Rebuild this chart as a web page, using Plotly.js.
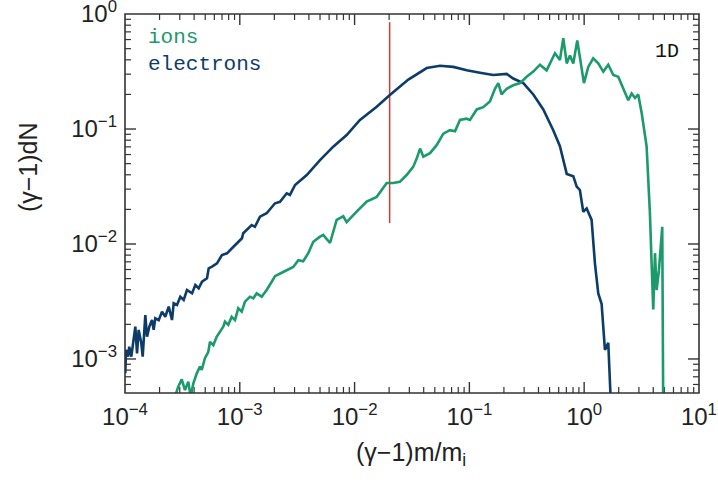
<!DOCTYPE html>
<html>
<head>
<meta charset="utf-8">
<script src="https://cdn.plot.ly/plotly-3.0.1.min.js"></script>
<style>
html,body{margin:0;padding:0;background:#fff;}
#chart{width:718px;height:482px;}
</style>
</head>
<body>
<div id="chart"></div>
<script>
// ---- data ----
const elecX = [1.006e-4, 1.021e-4, 1.062e-4, 1.089e-4, 1.135e-4, 1.191e-4, 1.230e-4, 1.273e-4, 1.315e-4, 1.387e-4,
  1.426e-4, 1.503e-4, 1.556e-4, 1.629e-4, 1.718e-4, 1.778e-4, 1.836e-4, 1.967e-4, 2.101e-4, 2.244e-4,
  2.404e-4, 2.567e-4, 2.655e-4, 2.838e-4, 3.033e-4, 3.245e-4, 3.467e-4, 3.837e-4, 4.097e-4, 4.385e-4,
  4.69e-4, 5.18e-4, 5.36e-4, 5.73e-4, 6.33e-4, 6.99e-4, 7.74e-4, 8.55e-4, 9.46e-4, 1.045e-3,
  1.072e-3, 1.270e-3, 1.355e-3, 1.50e-3, 1.714e-3, 2.027e-3, 2.24e-3, 2.564e-3, 2.735e-3, 3.03e-3,
  3.83e-3, 5.00e-3, 6.52e-3, 8.53e-3, 1.114e-2, 1.559e-2, 2.03e-2, 2.94e-2,
  4.25e-2, 5.55e-2, 7.24e-2, 9.48e-2, 0.1236, 0.1614, 0.2113, 0.241, 0.295, 0.3606,
  0.4406, 0.538, 0.615, 0.705, 0.804, 0.861, 0.918, 0.982, 1.052, 1.161,
  1.242, 1.327, 1.419, 1.517, 1.622, 1.702];
const elecY = [7.5e-4, 1.20e-3, 1.047e-3, 1.28e-3, 1.047e-3, 1.46e-3, 1.91e-3, 1.12e-3, 1.79e-3, 1.37e-3,
  1.047e-3, 2.41e-3, 1.56e-3, 1.91e-3, 2.18e-3, 1.79e-3, 2.26e-3, 2.18e-3, 2.58e-3, 2.33e-3,
  2.85e-3, 2.18e-3, 3.05e-3, 2.95e-3, 3.48e-3, 3.26e-3, 3.98e-3, 3.72e-3, 4.40e-3, 4.12e-3,
  4.70e-3, 5.03e-3, 6.15e-3, 6.35e-3, 6.79e-3, 8.02e-3, 8.30e-3, 9.18e-3, 1.014e-2, 1.122e-2,
  1.24e-2, 1.46e-2, 1.41e-2, 1.73e-2, 1.85e-2, 2.26e-2, 2.33e-2, 2.76e-2, 2.67e-2, 3.26e-2,
  3.98e-2, 5.37e-2, 7.02e-2, 8.87e-2, 0.120, 0.156, 0.198, 0.269,
  0.339, 0.355, 0.347, 0.324, 0.309, 0.295, 0.302, 0.275, 0.251, 0.200,
  0.148, 0.0977, 0.0708, 0.0407, 0.0389, 0.0316, 0.0295, 0.0191, 0.0204, 0.0162,
  0.00676, 0.00372, 0.00302, 0.00120, 0.00138, 4.5e-4];

const ionX = [2.65e-4, 2.91e-4, 3.12e-4, 3.33e-4, 3.56e-4, 3.73e-4, 3.94e-4, 4.22e-4, 4.50e-4, 4.66e-4,
  4.97e-4, 5.32e-4, 5.50e-4, 5.88e-4, 6.29e-4, 6.73e-4, 7.18e-4, 7.43e-4, 7.94e-4, 8.50e-4,
  9.08e-4, 9.70e-4, 1.040e-3, 1.110e-3, 1.227e-3, 1.312e-3, 1.403e-3, 1.552e-3, 1.714e-3, 1.897e-3,
  2.027e-3, 2.317e-3, 2.564e-3, 2.924e-3, 3.236e-3, 3.57e-3, 3.95e-3,
  4.37e-3, 4.93e-3, 5.33e-3, 6.11e-3, 6.98e-3, 7.97e-3, 8.53e-3, 1.042e-2, 1.274e-2, 1.559e-2,
  1.905e-2, 2.17e-2, 2.48e-2, 2.84e-2, 3.24e-2, 3.47e-2, 3.72e-2, 3.97e-2, 4.54e-2, 5.19e-2,
  5.93e-2, 6.78e-2, 7.50e-2, 8.28e-2, 9.46e-2, 0.1012, 0.1159, 0.1321, 0.1510, 0.1671,
  0.1786, 0.1910, 0.2113, 0.241, 0.276, 0.3155, 0.3606, 0.412, 0.471, 0.557,
  0.615, 0.658, 0.705, 0.752, 0.804, 0.871, 0.951, 0.996, 1.086, 1.199,
  1.327, 1.468, 1.622, 1.794, 1.982, 2.193, 2.423, 2.594, 2.773, 2.958,
  3.17, 3.50, 3.74, 3.87, 4.00, 4.14, 4.28, 4.48, 4.79, 4.89];
const ionY = [4.3e-4, 5.74e-4, 6.65e-4, 5.37e-4, 6.35e-4, 4.7e-4, 6.15e-4, 7.5e-4, 8.57e-4, 8.02e-4,
  1.014e-3, 1.156e-3, 1.41e-3, 1.32e-3, 1.56e-3, 1.73e-3, 1.91e-3, 2.11e-3, 1.98e-3, 2.33e-3,
  2.18e-3, 2.76e-3, 2.58e-3, 3.15e-3, 3.48e-3, 3.37e-3, 3.72e-3, 3.48e-3, 3.98e-3, 4.70e-3,
  5.25e-3, 5.62e-3, 5.89e-3, 6.31e-3, 7.24e-3, 7.08e-3, 8.32e-3,
  1.047e-2, 1.148e-2, 1.20e-2, 1.02e-2, 1.62e-2, 1.74e-2, 1.55e-2, 1.91e-2, 2.34e-2, 2.57e-2,
  3.39e-2, 3.39e-2, 3.47e-2, 3.98e-2, 4.68e-2, 5.50e-2, 6.76e-2, 5.75e-2, 6.17e-2, 7.24e-2,
  9.12e-2, 9.77e-2, 9.55e-2, 0.120, 0.123, 0.120, 0.148, 0.155, 0.174, 0.224,
  0.251, 0.200, 0.224, 0.240, 0.251, 0.285, 0.316, 0.363, 0.324, 0.457,
  0.398, 0.617, 0.372, 0.437, 0.372, 0.589, 0.347, 0.251, 0.347, 0.412,
  0.372, 0.316, 0.363, 0.295, 0.285, 0.224, 0.178, 0.204, 0.186, 0.200,
  0.138, 0.0708, 0.0186, 6.76e-3, 2.69e-3, 8.32e-3, 3.98e-3, 5.89e-3, 1.41e-2, 3.0e-4];

const markX = [0.0202, 0.0202];
const markY = [0.0152, 0.85];

const xTickVals = [1e-4, 1e-3, 1e-2, 1e-1, 1, 10];
const xTickText = ['10<sup>\u22124</sup>', '10<sup>\u22123</sup>', '10<sup>\u22122</sup>', '10<sup>\u22121</sup>', '10<sup>0</sup>', '10<sup>1</sup>'];
const yTickVals = [1e-3, 1e-2, 1e-1, 1];
const yTickText = ['10<sup>\u22123</sup>', '10<sup>\u22122</sup>', '10<sup>\u22121</sup>', '10<sup>0</sup>'];

const cElec = '#0d3c69';
const cIon = '#1b9a6c';
const cMark = '#d23a32';
const axisColor = '#333333';
const tickFont = {family: 'Liberation Sans, Arial, sans-serif', size: 24, color: '#222'};
const XR = [-4, 1.0005], YR = [-3.296, 0.0005];
const PW = 574, PH = 379;          // plot area size in px
const MAJ = 11, MIN = 6;           // tick lengths in px

// ---- tick marks (inside, on all four sides), built from the tick arrays ----
function minorTicks(lo, hi) {
  const out = [];
  for (let d = lo; d < hi; d++) for (let k = 2; k <= 9; k++) out.push(k * Math.pow(10, d));
  return out;
}
const xLogPerPx = (XR[1] - XR[0]) / PW, yLogPerPx = (YR[1] - YR[0]) / PH;
function tickPath(xvals, yvals, len) {
  const tx = [], ty = [];
  xvals.forEach(function (v) {
    tx.push(v, v, null, v, v, null);
    ty.push(Math.pow(10, YR[0]), Math.pow(10, YR[0] + len * yLogPerPx), null,
            Math.pow(10, YR[1]), Math.pow(10, YR[1] - len * yLogPerPx), null);
  });
  yvals.forEach(function (v) {
    if (Math.log10(v) < YR[0]) return;
    tx.push(Math.pow(10, XR[0]), Math.pow(10, XR[0] + len * xLogPerPx), null,
            Math.pow(10, XR[1]), Math.pow(10, XR[1] - len * xLogPerPx), null);
    ty.push(v, v, null, v, v, null);
  });
  return {tx: tx, ty: ty};
}
const majT = tickPath(xTickVals.slice(1, -1), yTickVals.slice(0, -1), MAJ);
const minT = tickPath(minorTicks(-4, 1), minorTicks(-4, 0), MIN);

const traces = [
  {x: majT.tx, y: majT.ty, type: 'scatter', mode: 'lines', line: {color: axisColor, width: 1.4}, hoverinfo: 'skip', connectgaps: false},
  {x: minT.tx, y: minT.ty, type: 'scatter', mode: 'lines', line: {color: axisColor, width: 1.2}, hoverinfo: 'skip', connectgaps: false},
  {x: markX, y: markY, type: 'scatter', mode: 'lines', line: {color: cMark, width: 1.5}, hoverinfo: 'skip'},
  {x: elecX, y: elecY, type: 'scatter', mode: 'lines', name: 'electrons', line: {color: cElec, width: 2.6}},
  {x: ionX, y: ionY, type: 'scatter', mode: 'lines', name: 'ions', line: {color: cIon, width: 2.6}}
];

const layout = {
  width: 718, height: 482,
  margin: {l: 125, r: 19, t: 14, b: 89},
  paper_bgcolor: '#fff', plot_bgcolor: '#fff',
  showlegend: false,
  xaxis: {
    type: 'log', range: XR, showgrid: false, zeroline: false, showline: false, ticks: '',
    tickmode: 'array', tickvals: xTickVals, ticktext: xTickText, tickfont: tickFont,
    ticklabelstandoff: 7, ticklabeloverflow: 'allow'
  },
  yaxis: {
    type: 'log', range: YR, showgrid: false, zeroline: false, showline: false, ticks: '',
    tickmode: 'array', tickvals: yTickVals, ticktext: yTickText, tickfont: tickFont,
    ticklabelstandoff: 7, ticklabeloverflow: 'allow'
  },
  shapes: [{type: 'rect', xref: 'paper', yref: 'paper', x0: 0, x1: 1, y0: 0, y1: 1,
    line: {color: axisColor, width: 1.6}, fillcolor: 'rgba(0,0,0,0)'}],
  annotations: [
    {xref: 'paper', yref: 'paper', x: 0.0366, y: 0.937, xanchor: 'left', yanchor: 'middle', showarrow: false,
     text: 'ions', font: {family: 'Liberation Mono, DejaVu Sans Mono, monospace', size: 21, color: cIon}},
    {xref: 'paper', yref: 'paper', x: 0.0366, y: 0.868, xanchor: 'left', yanchor: 'middle', showarrow: false,
     text: 'electrons', font: {family: 'Liberation Mono, DejaVu Sans Mono, monospace', size: 21, color: cElec}},
    {xref: 'paper', yref: 'paper', x: 0.920, y: 0.900, xanchor: 'left', yanchor: 'middle', showarrow: false,
     text: '1D', font: {family: 'Liberation Mono, DejaVu Sans Mono, monospace', size: 20, color: '#111'}},
    {xref: 'paper', yref: 'paper', x: 0.498, y: -0.16, xanchor: 'center', yanchor: 'middle', showarrow: false,
     text: '(\u03b3\u22121)m/m<sub>i</sub>', font: {family: 'Liberation Sans, Arial, sans-serif', size: 25, color: '#222'}},
    {xref: 'paper', yref: 'paper', x: -0.169, y: 0.596, xanchor: 'center', yanchor: 'middle', showarrow: false, textangle: -90,
     text: '(\u03b3\u22121)dN', font: {family: 'Liberation Sans, Arial, sans-serif', size: 25, color: '#222'}}
  ]
};

Plotly.newPlot('chart', traces, layout, {displayModeBar: false, staticPlot: true});
</script>
</body>
</html>
